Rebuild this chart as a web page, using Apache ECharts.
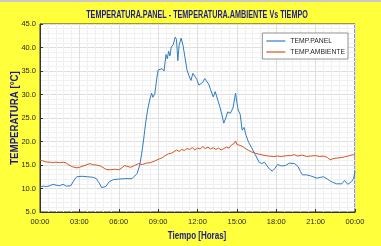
<!DOCTYPE html>
<html>
<head>
<meta charset="utf-8">
<script src="https://cdn.jsdelivr.net/npm/echarts@6/dist/echarts.min.js"></script>
<style>
  html, body { margin: 0; padding: 0; background: #ffff3c; }
  #container { width: 381px; height: 246px; }
</style>
</head>
<body>
<div id="container"></div>
<script>
// hours since midnight, temperature in degC
let panel = [
  [0,10.3],[0.25,10.5],[0.5,10.4],[0.75,10.6],[1,10.9],[1.25,10.7],[1.5,10.6],[1.75,10.9],[2,10.5],[2.15,10.2],
  [2.35,10.6],[2.6,11.8],[2.8,12.5],[3.2,12.6],[3.6,12.5],[4.0,12.4],[4.3,12.1],[4.5,11.2],[4.7,10.2],[4.85,9.9],
  [5.0,10.4],[5.3,11.5],[5.6,11.9],[6.0,12.0],[6.5,12.1],[7.0,12.1],[7.2,12.6],[7.4,13.2],[7.6,15.0],[7.75,17.5],
  [7.9,20.5],[8.05,24.0],[8.2,26.7],[8.35,28.8],[8.5,30.3],[8.6,29.4],[8.75,30.2],[8.9,33.5],[9.0,35.2],[9.15,34.8],
  [9.3,35.5],[9.45,35.0],[9.6,38.5],[9.7,37.6],[9.8,39.2],[9.9,38.2],[10.0,40.1],[10.15,40.6],[10.3,42.2],[10.4,41.7],
  [10.5,37.2],[10.6,40.5],[10.75,42.0],[10.9,40.4],[11.05,37.8],[11.2,35.2],[11.35,34.0],[11.5,33.0],[11.65,34.5],[11.8,34.9],
  [11.95,33.2],[12.1,32.0],[12.2,31.7],[12.4,32.6],[12.55,33.4],[12.7,33.8],[12.85,32.2],[13.0,31.0],[13.2,29.5],[13.35,30.6],
  [13.5,30.4],[13.7,27.4],[13.85,25.8],[14.0,23.9],[14.15,25.0],[14.3,26.3],[14.5,26.0],[14.7,27.1],[14.9,30.3],[15.0,28.3],
  [15.1,26.7],[15.25,25.8],[15.4,22.4],[15.55,23.0],[15.7,21.3],[15.9,19.8],[16.1,18.8],[16.4,17.2],[16.7,15.6],[16.9,15.3],
  [17.1,15.6],[17.3,14.8],[17.5,14.1],[17.7,13.7],[17.9,14.3],[18.1,15.1],[18.4,14.8],[18.7,14.9],[19.0,15.4],[19.4,15.3],
  [19.65,14.7],[19.85,13.6],[20.0,12.9],[20.3,12.9],[20.6,12.7],[21.1,12.2],[21.4,12.4],[21.6,12.5],[21.9,12.0],[22.1,11.6],
  [22.4,11.2],[22.6,11.0],[23.0,11.0],[23.2,11.7],[23.45,10.9],[23.6,11.0],[23.75,11.5],[23.9,12.2],[24,13.7]
];

let ambiente = [
  [0,16.0],[0.2,15.9],[0.4,15.7],[0.6,15.6],[0.8,15.6],[1.0,15.5],[1.2,15.6],[1.5,15.5],[1.8,15.6],[2.0,15.4],
  [2.2,15.0],[2.5,14.6],[2.8,14.4],[3.0,14.5],[3.2,14.7],[3.5,15.0],[3.8,15.3],[4.0,15.1],[4.3,15.0],[4.6,14.8],
  [4.9,14.3],[5.1,14.0],[5.4,14.0],[5.7,14.1],[6.0,14.0],[6.2,14.3],[6.45,14.9],[6.6,14.6],[6.9,14.5],[7.2,14.9],
  [7.5,15.3],[7.8,15.1],[8.1,15.4],[8.4,15.5],[8.7,15.8],[9.0,16.2],[9.2,16.4],[9.4,16.7],[9.6,17.1],[9.8,17.4],
  [10.0,17.5],[10.2,17.8],[10.4,18.2],[10.6,17.9],[10.8,18.3],[11.0,18.1],[11.2,18.5],[11.4,18.3],[11.6,18.7],[11.8,18.2],
  [12.0,18.6],[12.2,18.4],[12.4,18.9],[12.6,18.5],[12.8,18.8],[13.0,18.4],[13.2,18.7],[13.4,18.3],[13.6,18.6],[13.8,18.2],
  [14.0,18.5],[14.2,18.8],[14.4,18.6],[14.6,19.3],[14.8,19.6],[14.9,20.1],[15.0,19.4],[15.15,19.7],[15.3,19.1],[15.5,18.8],
  [15.7,18.4],[15.9,18.1],[16.1,17.8],[16.4,17.5],[16.7,17.3],[17.0,17.1],[17.4,16.9],[17.8,16.8],[18.1,16.9],[18.4,16.8],
  [18.8,17.0],[19.1,17.0],[19.4,17.2],[19.6,16.9],[20.0,17.1],[20.3,16.8],[20.6,16.9],[21.0,17.0],[21.3,16.8],[21.6,16.9],
  [21.9,16.6],[22.1,16.1],[22.4,16.4],[22.7,16.5],[23.0,16.6],[23.3,16.8],[23.6,17.0],[23.8,17.2],[24,17.1]
];

let seriesNames = ['TEMP.PANEL', 'TEMP.AMBIENTE'];
let titleText = 'TEMPERATURA.PANEL - TEMPERATURA.AMBIENTE Vs TIEMPO';
let xName = 'Tiempo [Horas]';
let yName = 'TEMPERATURA [°C]';

let navy = '#1c1c8f';
let dom = document.getElementById('container');
let chart = echarts.init(dom, null, {renderer: 'canvas'});

function hourLabel(v) {
    let h = Math.round(v) % 24;
    return (h < 10 ? '0' : '') + h + ':00';
}

let axisCommon = {
    axisLine: {show: true, lineStyle: {color: '#333', width: 1}},
    axisTick: {show: true, inside: true, length: 3, lineStyle: {color: '#333'}},
    axisLabel: {color: '#262626', fontSize: 7.5, fontFamily: 'Liberation Sans'},
    splitLine: {show: true, lineStyle: {color: '#dedede', width: 1}},
    minorTick: {show: false, splitNumber: 5},
    minorSplitLine: {show: true, lineStyle: {color: '#f0f0f0', width: 1}}
};

chart.setOption({
    backgroundColor: '#ffff3c',
    animation: false,
    graphic: [
        {type: 'rect', shape: {x: 0, y: 0, width: 381, height: 2}, style: {fill: '#c8c8c8'}},
        // condensed bold title and axis names
        {type: 'text', x: 197, y: 15, scaleX: 0.72,
         style: {text: titleText, fill: navy, font: 'bold 10px "Liberation Sans"', textAlign: 'center', textVerticalAlign: 'middle'}},
        {type: 'text', x: 197, y: 236, scaleX: 0.8,
         style: {text: xName, fill: navy, font: 'bold 10px "Liberation Sans"', textAlign: 'center', textVerticalAlign: 'middle'}},
        {type: 'text', x: 15, y: 118, rotation: Math.PI / 2, scaleX: 0.97,
         style: {text: yName, fill: navy, font: 'bold 10px "Liberation Sans"', textAlign: 'center', textVerticalAlign: 'middle'}}
    ],
    legend: {
        data: seriesNames,
        orient: 'vertical',
        right: 33, top: 33,
        backgroundColor: '#fff',
        borderColor: '#777', borderWidth: 0.8,
        padding: [4, 3, 3, 4],
        icon: 'rect',
        itemWidth: 19, itemHeight: 1.2, itemGap: 3,
        textStyle: {color: '#262626', fontSize: 6.8, lineHeight: 8, fontFamily: 'Liberation Sans'}
    },
    grid: {
        left: 40, right: 26, top: 24, bottom: 34,
        show: true, backgroundColor: '#fff', borderColor: '#333', borderWidth: 1
    },
    xAxis: Object.assign({}, axisCommon, {
        type: 'value', min: 0, max: 24, interval: 3,
        axisLabel: Object.assign({}, axisCommon.axisLabel, {formatter: hourLabel, margin: 6})
    }),
    yAxis: Object.assign({}, axisCommon, {
        type: 'value', min: 5, max: 45, interval: 5,
        axisLabel: Object.assign({}, axisCommon.axisLabel, {formatter: v => v.toFixed(1), margin: 4})
    }),
    series: [
        {
            name: seriesNames[0], type: 'line', data: panel,
            symbol: 'none', color: '#2f7cc4',
            lineStyle: {width: 1, color: '#2f7cc4'}
        },
        {
            name: seriesNames[1], type: 'line', data: ambiente,
            symbol: 'none', color: '#d9531e',
            lineStyle: {width: 1, color: '#d9531e'}
        }
    ]
});
</script>
</body>
</html>
